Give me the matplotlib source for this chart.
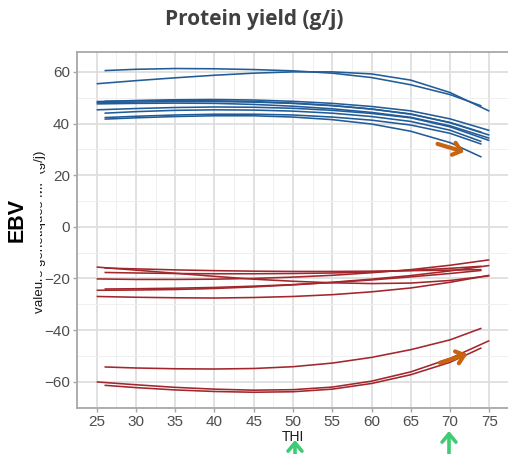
import matplotlib
matplotlib.use("Agg")
import matplotlib.pyplot as plt
from matplotlib.patches import Rectangle, FancyArrowPatch
from matplotlib.ticker import MultipleLocator

plt.rcParams["font.family"] = ["Liberation Sans", "DejaVu Sans"]

# ---- data -------------------------------------------------------------
thi_full = [25, 30, 35, 40, 45, 50, 55, 60, 65, 70, 75]
thi_short = [26, 30, 35, 40, 45, 50, 55, 60, 65, 70, 74]

# blue (EBV curves, upper group)
blue_full = [
    [55.4, 56.6, 57.7, 58.7, 59.5, 60.0, 60.0, 59.2, 56.8, 52.0, 44.8],
    [48.5, 48.9, 49.2, 49.3, 49.1, 48.6, 47.8, 46.6, 44.9, 41.8, 37.3],
    [48.1, 48.3, 48.5, 48.5, 48.3, 47.8, 46.9, 45.6, 43.7, 40.3, 35.5],
    [47.6, 47.8, 47.9, 47.8, 47.4, 46.7, 45.7, 44.3, 42.4, 39.1, 34.3],
    [45.3, 45.8, 46.2, 46.4, 46.3, 45.9, 45.1, 43.9, 42.2, 38.7, 33.4],
]
blue_short = [
    [60.5, 61.0, 61.3, 61.2, 60.9, 60.4, 59.5, 57.8, 55.0, 51.2, 46.8],
    [48.6, 48.8, 48.9, 48.8, 48.5, 47.9, 47.0, 45.6, 43.6, 40.4, 36.6],
    [44.0, 44.6, 45.1, 45.3, 45.2, 44.8, 44.0, 42.7, 40.8, 37.4, 33.0],
    [42.3, 42.8, 43.3, 43.6, 43.6, 43.3, 42.5, 41.3, 39.4, 36.2, 32.0],
    [41.7, 42.2, 42.7, 43.0, 43.0, 42.5, 41.5, 39.8, 37.0, 32.6, 27.0],
]

# red (EBV curves, lower groups)
red_full = [
    [-15.6, -16.8, -18.0, -19.2, -20.3, -21.1, -21.7, -22.0, -21.8, -20.8, -19.0],
    [-20.2, -20.4, -20.4, -20.3, -20.0, -19.5, -18.8, -17.8, -16.6, -14.9, -12.8],
    [-24.6, -24.5, -24.3, -23.9, -23.3, -22.5, -21.5, -20.3, -18.9, -17.1, -15.0],
    [-27.0, -27.3, -27.5, -27.6, -27.4, -27.0, -26.3, -25.2, -23.7, -21.5, -18.8],
    [-60.1, -61.2, -62.2, -62.9, -63.3, -63.1, -62.1, -59.8, -56.2, -51.0, -44.1],
]
red_short = [
    [-16.0, -16.3, -16.7, -17.0, -17.2, -17.3, -17.3, -17.2, -17.0, -16.8, -16.6],
    [-17.7, -17.9, -18.1, -18.2, -18.2, -18.1, -17.9, -17.5, -16.9, -16.1, -15.3],
    [-24.1, -24.0, -23.8, -23.5, -23.0, -22.4, -21.6, -20.6, -19.4, -18.1, -16.9],
    [-54.3, -54.7, -55.0, -55.1, -54.9, -54.2, -52.8, -50.6, -47.6, -43.8, -39.3],
    [-61.4, -62.3, -63.2, -63.8, -64.1, -63.9, -62.9, -60.7, -57.3, -52.5, -46.9],
]

x_ticks = [25, 30, 35, 40, 45, 50, 55, 60, 65, 70, 75]
y_ticks = [-60, -40, -20, 0, 20, 40, 60]

title = "Protein yield (g/j)"
x_label = "THI"
y_label = "valeurs génétiques MF (g/j)"
overlay_label = "EBV"

# orange arrows (data coords) and green arrows (figure pixel x, tip y)
orange_arrows = [((68.4, 32.1), (71.8, 29.0)), ((68.7, -52.7), (72.2, -49.3))]
green_arrows = [(295, 440), (449, 431)]

# ---- figure -----------------------------------------------------------
W, H = 508, 454
fig = plt.figure(figsize=(W / 100, H / 100), dpi=100)
ax = fig.add_axes([77 / W, 46 / H, 432 / W, 356 / H])

blue_c = "#225c98"
red_c = "#a2262b"
for ys in blue_full:
    ax.plot(thi_full, ys, color=blue_c, lw=1.15, solid_capstyle="butt", zorder=3)
for ys in blue_short:
    ax.plot(thi_short, ys, color=blue_c, lw=1.15, solid_capstyle="butt", zorder=3)
for ys in red_full:
    ax.plot(thi_full, ys, color=red_c, lw=1.15, solid_capstyle="butt", zorder=3)
for ys in red_short:
    ax.plot(thi_short, ys, color=red_c, lw=1.15, solid_capstyle="butt", zorder=3)

ax.set_xlim(22.5, 77.5)
ax.set_ylim(-70.2, 67.7)
ax.set_xticks(x_ticks)
ax.set_yticks(y_ticks)
ax.xaxis.set_minor_locator(MultipleLocator(2.5))
ax.yaxis.set_minor_locator(MultipleLocator(10))
ax.grid(which="major", color="#dedede", lw=1.3, zorder=0)
ax.grid(which="minor", color="#efefef", lw=0.7, zorder=0)
ax.set_axisbelow(True)

for s in ["left", "bottom", "top"]:
    ax.spines[s].set_color("#a8a8a8")
    ax.spines[s].set_linewidth(1.3)
ax.spines["right"].set_visible(False)
ax.tick_params(which="major", length=3, width=1.0, color="#a8a8a8",
               labelsize=11, labelcolor="#4d4d4d", pad=2)
ax.tick_params(which="minor", length=0)

# orange arrows
for (x0, y0), (x1, y1) in orange_arrows:
    ax.annotate("", xy=(x1, y1), xytext=(x0, y0),
                arrowprops=dict(arrowstyle="->,head_length=0.55,head_width=0.45",
                                color="#c8640f", lw=3.0, shrinkA=0, shrinkB=0,
                                mutation_scale=10),
                zorder=5)

# title
fig.text(254 / W, 1 - 19 / H, title, ha="center", va="center",
         fontsize=15, fontweight="bold", color="#404040", family="Open Sans")

# axis labels
fig.text(292.5 / W, 1 - 437 / H, x_label, ha="center", va="center",
         fontsize=10, color="#1a1a1a")
fig.text(40.5 / W, 1 - 232 / H, y_label, ha="center", va="center", rotation=90,
         fontsize=9.6, color="#1a1a1a")

# white box with EBV over part of the y label
fig.patches.append(Rectangle((0, 1 - 282 / H), 39.5 / W, 120 / H,
                             transform=fig.transFigure, facecolor="white",
                             edgecolor="none", zorder=5))
fig.text(17.5 / W, 1 - 220 / H, overlay_label, ha="center", va="center",
         rotation=90, fontsize=15.5, fontweight="bold", color="black",
         zorder=6)

# green arrows
for px, tip in green_arrows:
    arr = FancyArrowPatch((px / W, -0.01), (px / W, 1 - tip / H),
                          transform=fig.transFigure,
                          arrowstyle="->,head_length=0.6,head_width=0.5",
                          color="#3dcc72", lw=2.6, mutation_scale=10,
                          shrinkA=0, shrinkB=0, zorder=6)
    fig.patches.append(arr)

fig.savefig("out.png", dpi=100)
